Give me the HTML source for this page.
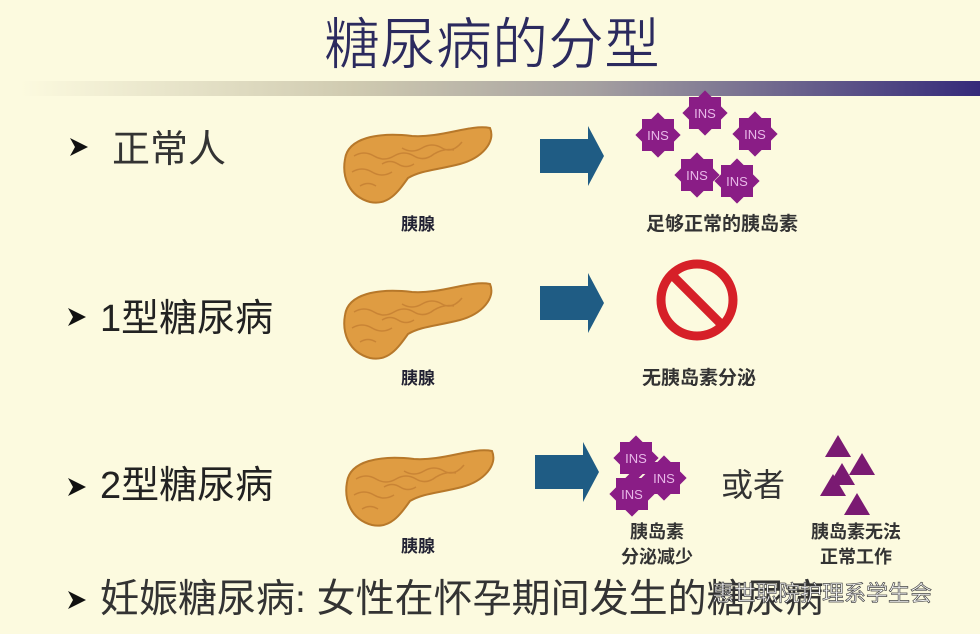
<!DOCTYPE html>
<html><head><meta charset="utf-8"><style>
html,body{margin:0;padding:0;background:#fcfadf;}
svg{display:block;}
text{font-family:"Liberation Sans","Noto Sans CJK SC",sans-serif;}
</style></head><body>
<svg width="980" height="634" viewBox="0 0 980 634" xmlns="http://www.w3.org/2000/svg">
<defs>
<linearGradient id="bar" x1="0" x2="1" y1="0" y2="0">
<stop offset="0" stop-color="#fcfadf"/>
<stop offset="0.35" stop-color="#cfcab0"/>
<stop offset="0.6" stop-color="#a49fa0"/>
<stop offset="1" stop-color="#352a7a"/>
</linearGradient>
<g id="panc">
<path d="M3,35 C6,14 35,8 70,12 C100,14 128,0 148,4 C154,18 140,34 118,40 C95,46 80,46 66,54 C56,68 46,82 28,78 C6,72 0,52 3,35 Z" fill="#df9c42" stroke="#b7782a" stroke-width="2"/>
<path d="M12,32 q10,-6 20,0 q10,6 20,0 q10,-6 20,0 q10,6 20,-2 q10,-6 20,-4 M10,48 q10,-6 20,0 q10,6 20,0 M18,62 q8,-5 16,0 M60,24 q10,6 20,0 q10,-6 20,0 q10,6 20,-6 M40,40 q8,-5 16,0 q8,5 16,0" fill="none" stroke="#bf7a30" stroke-width="1.5" opacity="0.7"/>
</g>
<g id="star">
<rect x="-16" y="-16" width="32" height="32" fill="#8a1d86"/>
<rect x="-16" y="-16" width="32" height="32" fill="#8a1d86" transform="rotate(45)"/>
<text x="0" y="5" font-size="13" fill="#e8b8e8" text-anchor="middle">INS</text>
</g>
<g id="arrow"><path d="M0,-17 H48 V-30 L64,0 L48,30 V17 H0 Z" fill="#1f5c84"/></g>
<polygon id="tri" points="0,-12 13,10 -13,10" fill="#7a1a72"/>
<polygon id="bul" points="0,-9 18,0 0,9 5,0" fill="#111"/>
</defs>

<text x="492" y="64" font-size="56" fill="#2b2a5e" text-anchor="middle" font-weight="normal" stroke="#fcfadf" stroke-width="0.8">糖尿病的分型</text>
<rect x="20" y="81" width="960" height="15" fill="url(#bar)"/>

<!-- row 1 -->
<use href="#bul" transform="translate(70,147)"/>
<text x="112" y="162" font-size="38" fill="#333">正常人</text>
<use href="#panc" transform="translate(342,124)"/>
<text x="418" y="230" font-size="17" fill="#223" text-anchor="middle" font-weight="bold">胰腺</text>
<use href="#arrow" transform="translate(540,156)"/>
<use href="#star" transform="translate(658,135)"/>
<use href="#star" transform="translate(705,113)"/>
<use href="#star" transform="translate(755,134)"/>
<use href="#star" transform="translate(697,175)"/>
<use href="#star" transform="translate(737,181)"/>
<text x="722" y="230" font-size="19" fill="#333" text-anchor="middle" font-weight="bold">足够正常的胰岛素</text>

<!-- row 2 -->
<use href="#bul" transform="translate(68,317)"/>
<text x="100" y="331" font-size="38" fill="#222">1型糖尿病</text>
<use href="#panc" transform="translate(342,280)"/>
<text x="418" y="384" font-size="17" fill="#223" text-anchor="middle" font-weight="bold">胰腺</text>
<use href="#arrow" transform="translate(540,303)"/>
<circle cx="697" cy="300" r="36" fill="none" stroke="#d62028" stroke-width="9"/>
<line x1="673" y1="276" x2="721" y2="324" stroke="#d62028" stroke-width="9"/>
<text x="699" y="384" font-size="19" fill="#333" text-anchor="middle" font-weight="bold">无胰岛素分泌</text>

<!-- row 3 -->
<use href="#bul" transform="translate(68,487)"/>
<text x="100" y="498" font-size="38" fill="#222">2型糖尿病</text>
<use href="#panc" transform="translate(344,447)"/>
<text x="418" y="552" font-size="17" fill="#223" text-anchor="middle" font-weight="bold">胰腺</text>
<use href="#arrow" transform="translate(535,472)"/>
<use href="#star" transform="translate(636,458)"/>
<use href="#star" transform="translate(664,478)"/>
<use href="#star" transform="translate(632,494)"/>
<text x="753" y="496" font-size="32" fill="#333" text-anchor="middle">或者</text>
<use href="#tri" transform="translate(838,447)"/>
<use href="#tri" transform="translate(862,465)"/>
<use href="#tri" transform="translate(842,475)"/>
<use href="#tri" transform="translate(833,486)"/>
<use href="#tri" transform="translate(857,505)"/>
<text x="657" y="538" font-size="18" fill="#333" text-anchor="middle" font-weight="bold">胰岛素</text>
<text x="657" y="563" font-size="18" fill="#333" text-anchor="middle" font-weight="bold">分泌减少</text>
<text x="856" y="538" font-size="18" fill="#333" text-anchor="middle" font-weight="bold">胰岛素无法</text>
<text x="856" y="563" font-size="18" fill="#333" text-anchor="middle" font-weight="bold">正常工作</text>

<!-- row 4 -->
<use href="#bul" transform="translate(68,600)"/>
<text x="100" y="612" font-size="39" fill="#333">妊娠糖尿病: 女性在怀孕期间发生的糖尿病</text>
<text x="712" y="601" font-size="22" fill="#fff" stroke="#444" stroke-width="0.7">惠世职院护理系学生会</text>
</svg>
</body></html>
